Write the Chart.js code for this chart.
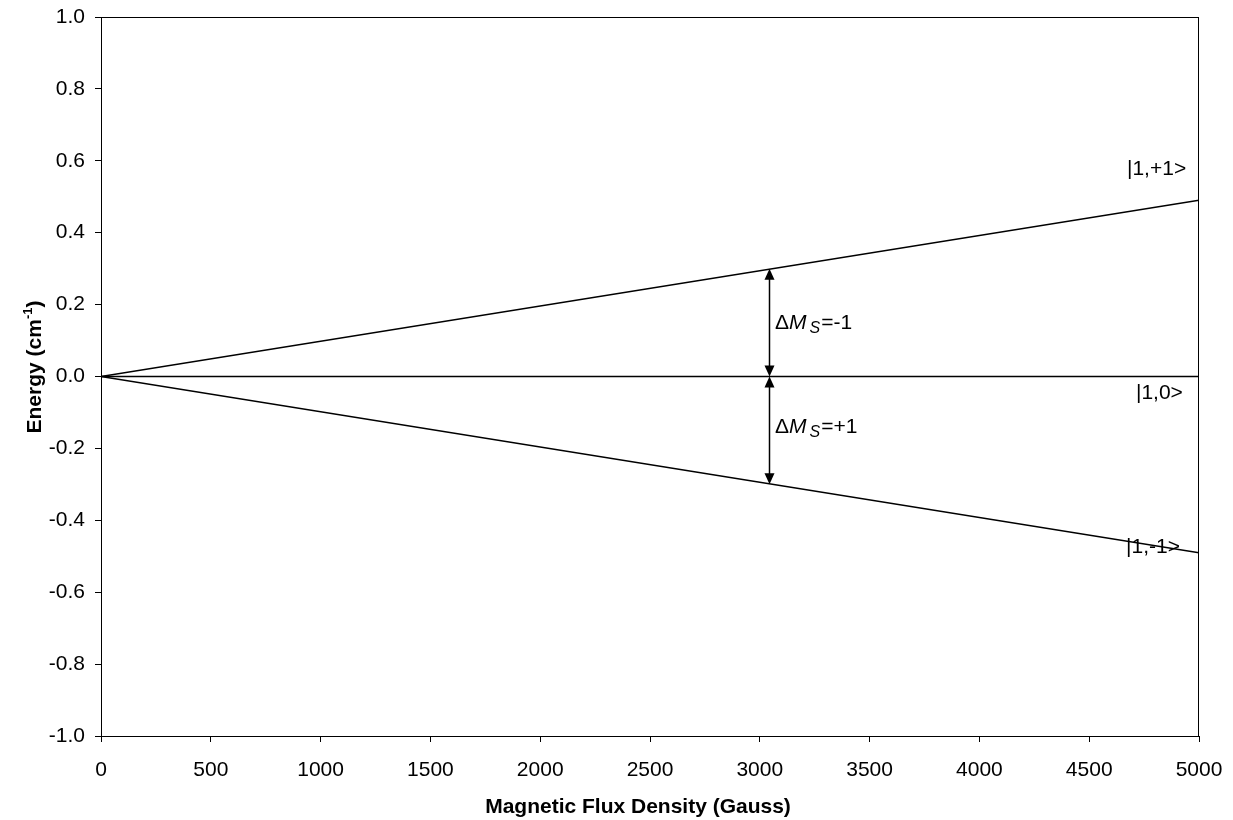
<!DOCTYPE html>
<html>
<head>
<meta charset="utf-8">
<script src="https://cdn.jsdelivr.net/npm/chart.js@4.4.1/dist/chart.umd.min.js"></script>
<style>
  html, body { margin: 0; padding: 0; background: #fff; }
  #wrap { width: 1233px; height: 820px; }
</style>
</head>
<body>
<div id="wrap"><canvas id="zeeman"></canvas></div>
<script>
// field (Gauss) and energy of the three triplet levels (cm-1)
const fieldGauss = [0, 5000];
const levelPlus = [0, 0.49];
const levelZero = [0, 0];
const levelMinus = [0, -0.49];

// transitions drawn as double headed arrows at the resonance field
const transitionField = 3040;
const transUpper = [0, 0.3];
const transLower = [0, -0.3];
const transText = ['=-1', '=+1'];
const transTextY = [0.132, -0.157];

// level labels and where they sit (data units)
const levelNames = ['|1,+1>', '|1,0>', '|1,-1>'];
const levelNameX = [4672, 4713, 4668];
const levelNameY = [0.561, -0.063, -0.492];

const FONT = '"Liberation Sans", Arial, sans-serif';

function pts(ys) {
  return fieldGauss.map((g, i) => ({ x: g, y: ys[i] }));
}

function arrowHead(ctx, x, y, dir) {
  // dir = -1 points up, +1 points down
  ctx.beginPath();
  ctx.moveTo(x, y);
  ctx.lineTo(x - 5, y - dir * 11);
  ctx.lineTo(x + 5, y - dir * 11);
  ctx.closePath();
  ctx.fill();
}

const overlay = {
  id: 'overlay',
  afterDatasetsDraw(chart) {
    const { ctx, chartArea: a, scales: { x, y } } = chart;
    ctx.save();
    ctx.strokeStyle = '#000';
    ctx.fillStyle = '#000';
    ctx.lineWidth = 1;
    ctx.strokeRect(a.left + 0.5, a.top + 0.5, a.width - 1, a.height);

    // arrows
    const ax = Math.round(x.getPixelForValue(transitionField)) + 0.5;
    [transUpper, transLower].forEach(r => {
      const y0 = y.getPixelForValue(r[0]);
      const y1 = y.getPixelForValue(r[1]);
      const top = Math.min(y0, y1), bot = Math.max(y0, y1);
      ctx.lineWidth = 1.5;
      ctx.beginPath();
      ctx.moveTo(ax, top + 6);
      ctx.lineTo(ax, bot - 6);
      ctx.stroke();
      arrowHead(ctx, ax, top, -1);
      arrowHead(ctx, ax, bot, 1);
    });

    // delta M_S labels
    transText.forEach((t, i) => {
      let px = ax + 5.5;
      const py = y.getPixelForValue(transTextY[i]);
      ctx.textBaseline = 'alphabetic';
      ctx.textAlign = 'left';
      ctx.font = '21px ' + FONT;
      ctx.fillText('\u0394', px, py);
      px += ctx.measureText('\u0394').width;
      ctx.font = 'italic 21px ' + FONT;
      ctx.fillText('M', px, py);
      px += ctx.measureText('M').width + 3;
      ctx.font = 'italic 16px ' + FONT;
      ctx.fillText('S', px, py + 4);
      px += ctx.measureText('S').width + 1;
      ctx.font = '21px ' + FONT;
      ctx.fillText(t, px, py);
    });

    // level labels
    ctx.font = '21px ' + FONT;
    levelNames.forEach((n, i) => {
      ctx.fillText(n, x.getPixelForValue(levelNameX[i]), y.getPixelForValue(levelNameY[i]));
    });

    // axis titles
    ctx.font = 'bold 21px ' + FONT;
    ctx.textAlign = 'center';
    ctx.fillText('Magnetic Flux Density (Gauss)', 638, 813);

    ctx.translate(41, 367);
    ctx.rotate(-Math.PI / 2);
    const p1 = 'Energy (cm', sup = '-1', p2 = ')';
    ctx.font = 'bold 21px ' + FONT;
    const w1 = ctx.measureText(p1).width, w3 = ctx.measureText(p2).width;
    ctx.font = 'bold 13px ' + FONT;
    const w2 = ctx.measureText(sup).width;
    let sx = -(w1 + w2 + w3) / 2;
    ctx.textAlign = 'left';
    ctx.font = 'bold 21px ' + FONT;
    ctx.fillText(p1, sx, 0);
    sx += w1;
    ctx.font = 'bold 13px ' + FONT;
    ctx.fillText(sup, sx, -9);
    sx += w2;
    ctx.font = 'bold 21px ' + FONT;
    ctx.fillText(p2, sx, 0);
    ctx.restore();
  }
};

const lineStyle = { borderColor: '#000', borderWidth: 1.5, pointRadius: 0, showLine: true, fill: false };

new Chart(document.getElementById('zeeman'), {
  type: 'scatter',
  data: {
    datasets: [
      { label: '|1,+1>', data: pts(levelPlus), ...lineStyle },
      { label: '|1,0>', data: pts(levelZero), ...lineStyle },
      { label: '|1,-1>', data: pts(levelMinus), ...lineStyle }
    ]
  },
  options: {
    responsive: true,
    maintainAspectRatio: false,
    animation: false,
    events: [],
    layout: { padding: { left: 0, top: 17, right: 34, bottom: 0 } },
    plugins: { legend: { display: false }, tooltip: { enabled: false } },
    scales: {
      x: {
        type: 'linear',
        min: 0, max: 5000,
        ticks: { stepSize: 500, color: '#000', font: { family: FONT, size: 21 }, padding: 16, maxRotation: 0,
                 callback: v => String(v) },
        grid: { display: true, drawOnChartArea: false, color: '#000', tickLength: 6 },
        border: { color: '#000', width: 1 },
        afterFit(s) { s.height = 84; s.paddingLeft = 0; s.paddingRight = 0; }
      },
      y: {
        type: 'linear',
        min: -1, max: 1,
        ticks: { stepSize: 0.2, color: '#000', font: { family: FONT, size: 21 }, padding: 10,
                 callback: v => (Math.abs(v) < 1e-9 ? 0 : v).toFixed(1) },
        grid: { display: true, drawOnChartArea: false, color: '#000', tickLength: 6 },
        border: { color: '#000', width: 1 },
        afterFit(s) { s.width = 101; s.paddingTop = 0; s.paddingBottom = 0; }
      }
    }
  },
  plugins: [overlay]
});
</script>
</body>
</html>
